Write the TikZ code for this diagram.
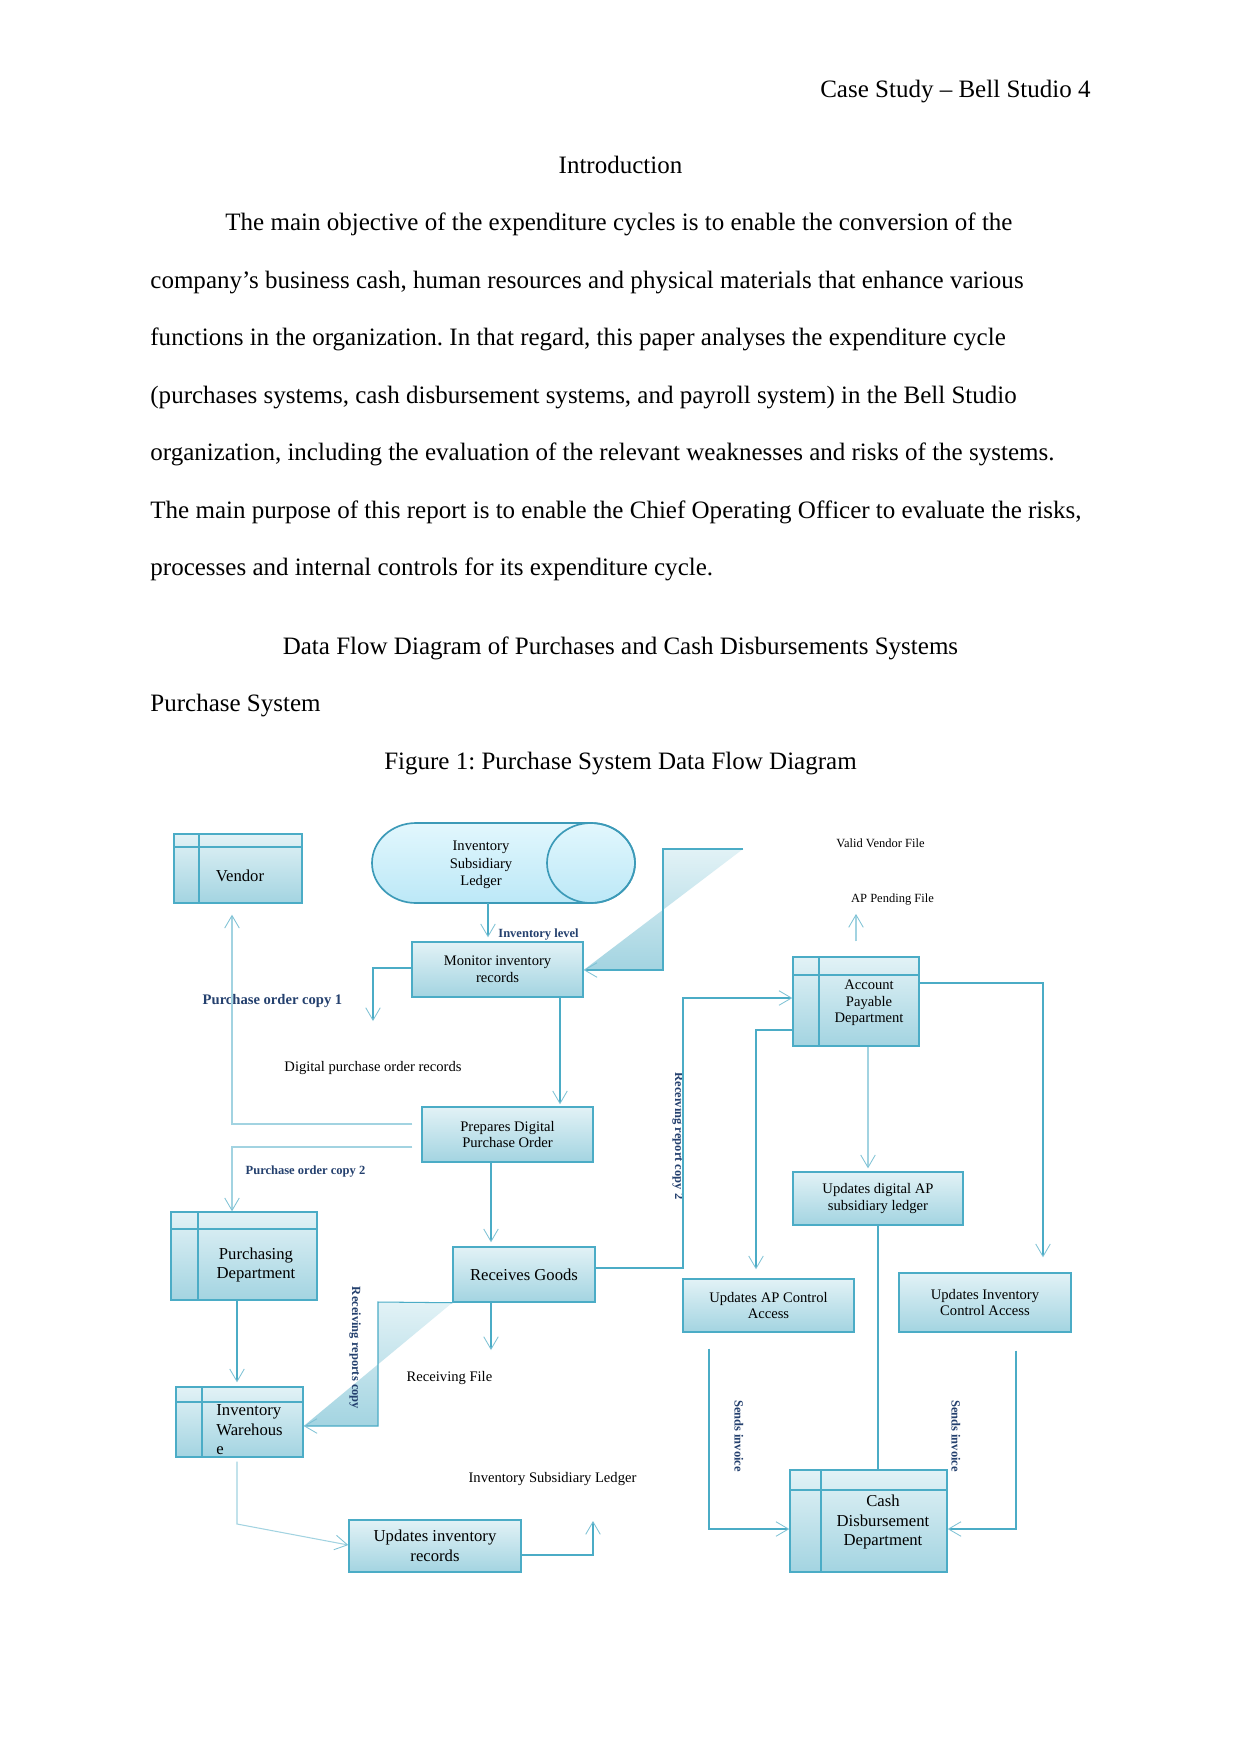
\documentclass[tikz,border=0pt]{standalone}
\usepackage{fontspec}
\setmainfont{Liberation Serif}
\usetikzlibrary{arrows.meta}
\newcommand\pxu{0.47968pt}
\definecolor{dfdedge}{HTML}{4BACC6}
\definecolor{dfdpale}{HTML}{A2D3E1}
\definecolor{dfdtip}{HTML}{7EC2D5}
\definecolor{dfdtop}{HTML}{E2F2F6}
\definecolor{dfdbot}{HTML}{A3D4E1}
\definecolor{cyltop}{HTML}{E2F7FD}
\definecolor{cylbot}{HTML}{BCE8F7}
\definecolor{cyledge}{HTML}{3C9AB8}
\definecolor{dfdlabel}{HTML}{24406E}
\begin{document}
\frenchspacing
\begin{tikzpicture}[x=\pxu, y=-\pxu,
  box/.style={draw=dfdedge, line width=0.7pt, top color=dfdtop, bottom color=dfdbot,
    inner sep=0pt, align=center, font=\fontsize{7}{8}\selectfont},
  boxsize/.style 2 args={minimum width=#1*\pxu, minimum height=#2*\pxu},
  entity/.style 2 args={box, path picture={
    \draw[dfdedge, line width=0.7pt] ([shift={(#1,0)}]path picture bounding box.north west)
      -- ([shift={(#1,0)}]path picture bounding box.south west);
    \draw[dfdedge, line width=0.7pt] ([shift={(0,#2)}]path picture bounding box.north west)
      -- ([shift={(0,#2)}]path picture bounding box.north east);}},
  boxtext/.style={inner sep=0pt, align=center, font=\fontsize{8}{9.4}\selectfont},
  flow/.style={draw=dfdedge, line width=0.5pt,
    -{Straight Barb[length=6pt,width=7pt,line width=0.4pt,color=dfdtip]}},
  flowpale/.style={flow, draw=dfdpale},
  link/.style={draw=dfdedge, line width=0.5pt},
  tag/.style={inner sep=0pt, text=dfdlabel, font=\fontsize{6}{7}\selectfont\bfseries},
  store/.style={inner sep=0pt, align=center, font=\fontsize{7}{8}\selectfont},
  body/.style={inner sep=0pt, anchor=base west, font=\fontsize{12}{14}\selectfont}]

\fill[white] (0,0) rectangle (1241,1754);
\useasboundingbox (0,0) rectangle (1241,1754);

% page text
\node[body, anchor=base east] (header) at (1091,97.5) {Case Study – Bell Studio 4};
\node[body, anchor=base] (intro) at (620.5,173) {Introduction};
\node[body] (line1) at (225,230) {The main objective of the expenditure cycles is to enable the conversion of the};
\node[body] (line2) at (150,288.3) {company’s business cash, human resources and physical materials that enhance various};
\node[body] (line3) at (150,345.4) {functions in the organization. In that regard, this paper analyses the expenditure cycle};
\node[body] (line4) at (150,403.5) {(purchases systems, cash disbursement systems, and payroll system) in the Bell Studio};
\node[body] (line5) at (150,460.6) {organization, including the evaluation of the relevant weaknesses and risks of the systems.};
\node[body] (line6) at (150,518.8) {The main purpose of this report is to enable the Chief Operating Officer to evaluate the risks,};
\node[body] (line7) at (150,575.9) {processes and internal controls for its expenditure cycle.};
\node[body, anchor=base] (dfdtitle) at (620.5,654.2) {Data Flow Diagram of Purchases and Cash Disbursements Systems};
\node[body] (purchsys) at (150,711.3) {Purchase System};
\node[body, anchor=base] (caption) at (620.5,769.4) {Figure 1: Purchase System Data Flow Diagram};

% ledger cylinder
\shadedraw[draw=cyledge, line width=0.8pt, top color=cyltop, bottom color=cylbot]
  (416,823) -- (591,823) arc[start angle=-90, end angle=90, x radius=44, y radius=40]
  -- (416,903) arc[start angle=90, end angle=270, x radius=44, y radius=40] -- cycle;
\draw[cyledge, line width=0.8pt] (591,863) ellipse[x radius=44, y radius=40];
\node[store, font=\fontsize{7}{8.3}\selectfont] (ledger) at (481,865) {Inventory\\Subsidiary\\Ledger};
\coordinate (ledger-out) at (488,903);

% stores and processes
\node[entity={25}{13}, boxsize={128}{69}] (vendor) at (238,868.5) {};
\node[boxtext] (vendor-t) at (240,876) {Vendor};
\node[box, boxsize={171}{55}] (monitor) at (497.5,969.5) {Monitor inventory\\records};
\node[box, boxsize={171}{55}] (prepares) at (507.5,1134.5) {Prepares Digital\\Purchase Order};
\node[box, boxsize={142}{55}, font=\fontsize{8}{9.4}\selectfont] (receives) at (524,1274.5) {Receives Goods};
\node[entity={27}{17}, boxsize={146}{88}] (purchasing) at (244,1256) {};
\node[boxtext] (purchasing-t) at (256,1265) {Purchasing\\Department};
\node[entity={26}{15}, boxsize={127}{70}] (warehouse) at (239.5,1422) {};
\node[boxtext, align=left, anchor=west] (warehouse-t) at (216,1430) {Inventory\\Warehous\\e};
\node[box, boxsize={172}{52}, font=\fontsize{8}{9.4}\selectfont] (updinv) at (435,1546) {Updates inventory\\records};
\node[entity={26}{18}, boxsize={126}{89}] (ap) at (856,1001.5) {};
\node[boxtext, font=\fontsize{7}{8}\selectfont] (ap-t) at (869,1003) {Account\\Payable\\Department};
\node[box, boxsize={170}{53}] (apledger) at (878,1198.5) {Updates digital AP\\subsidiary ledger};
\node[box, boxsize={171}{53}] (apcontrol) at (768.5,1305.5) {Updates AP Control\\Access};
\node[box, boxsize={172}{59}] (invcontrol) at (985,1302.5) {Updates Inventory\\Control Access};
\node[entity={31}{20}, boxsize={157}{102}] (cash) at (868.5,1521) {};
\node[boxtext] (cash-t) at (883,1522) {Cash\\Disbursement\\Department};

\coordinate (dporec-in) at (373,1021);
\coordinate (vvfile-out) at (743,849);
\coordinate (apfile-in) at (856,914);
\coordinate (recfile-in) at (491,1350);
\coordinate (islfile-in) at (593,1521);

% shaded elbows
\shade[top color=dfdtop, bottom color=dfdbot] (vvfile-out) -- (663,849) -- (663,970) -- (monitor.east |- 0,970) -- cycle;
\shade[top color=dfdtop, bottom color=dfdbot] (receives.south west) -- (378,1302) -- (378,1426) -- (warehouse.east |- 0,1426) -- cycle;

% labels
\node[tag, anchor=west] (invlevel) at (498,934) {Inventory level};
\node[tag, font=\fontsize{7}{8}\selectfont\bfseries] (pocopy1) at (272.5,1001) {Purchase order copy 1};
\node[store] (dporec) at (373,1068) {Digital purchase order records};
\node[tag] (pocopy2) at (305.5,1171) {Purchase order copy 2};
\node[store, font=\fontsize{6}{7}\selectfont] (vvfile) at (880.5,843) {Valid Vendor File};
\node[store, font=\fontsize{6}{7}\selectfont] (apfile) at (892.5,899) {AP Pending File};
\node[tag, rotate=-90] (rrcopy2) at (678,1136) {Receiving report copy 2};
\node[tag, rotate=-90] (rrcopy) at (355,1348) {Receiving reports copy};
\node[store] (recfile) at (449.5,1378) {Receiving File};
\node[store] (islfile) at (552.5,1479) {Inventory Subsidiary Ledger};
\node[tag, rotate=-90] (invoice1) at (739,1436) {Sends invoice};
\node[tag, rotate=-90] (invoice2) at (956,1436) {Sends invoice};

% flows
\draw[flow, shorten >=4*\pxu] (ledger-out) -- (monitor.north -| ledger-out);
\draw[flow] (monitor.west |- 0,968) -| (dporec-in);
\draw[flow, shorten >=2*\pxu] (monitor.south -| 560,0) -- (prepares.north -| 560,0);
\draw[flowpale, shorten <=9*\pxu, shorten >=11*\pxu] (prepares.west |- 0,1124) -| (vendor.south -| 232,0);
\draw[flowpale, shorten <=9*\pxu] (prepares.west |- 0,1147) -| (purchasing.north -| 232,0);
\draw[flow, shorten >=4*\pxu] (prepares.south -| 491,0) -- (receives.north -| 491,0);
\draw[flow, shorten >=4*\pxu] (purchasing.south -| 237,0) -- (warehouse.north -| 237,0);
\draw[flow] (receives.south west) -- (378,1302) -- (378,1426) -- (warehouse.east |- 0,1426);
\draw[flow] (vvfile-out) -- (663,849) -- (663,970) -- (monitor.east |- 0,970);
\draw[flow] (receives.south -| 491,0) -- (recfile-in);
\draw[flow] (receives.east |- 0,1268) -- (683,1268) |- (ap.west |- 0,998);
\draw[flow, shorten >=9*\pxu] (ap.west |- 0,1030) -| (apcontrol.north -| 756,0);
\draw[flow, shorten >=15*\pxu] (ap.east |- 0,983) -| (invcontrol.north -| 1043,0);
\draw[flowpale, shorten >=3*\pxu] (ap.south -| 868,0) -- (apledger.north -| 868,0);
\draw[flowpale, shorten <=15*\pxu] (ap.north -| 856,0) -- (apfile-in);
\draw[link] (apledger.south) -- (apledger.south |- cash.north);
\draw[flow, shorten <=16*\pxu] (apcontrol.south -| 709,0) |- (cash.west |- 0,1529);
\draw[flow, shorten <=18*\pxu] (invcontrol.south -| 1016,0) |- (cash.east |- 0,1529);
\draw[flowpale, shorten <=4*\pxu] (warehouse.south -| 237,0) -- (237,1524) -- (updinv.west |- 0,1545);
\draw[flow] (updinv.east |- 0,1555) -| (islfile-in);
\end{tikzpicture}
\end{document}
